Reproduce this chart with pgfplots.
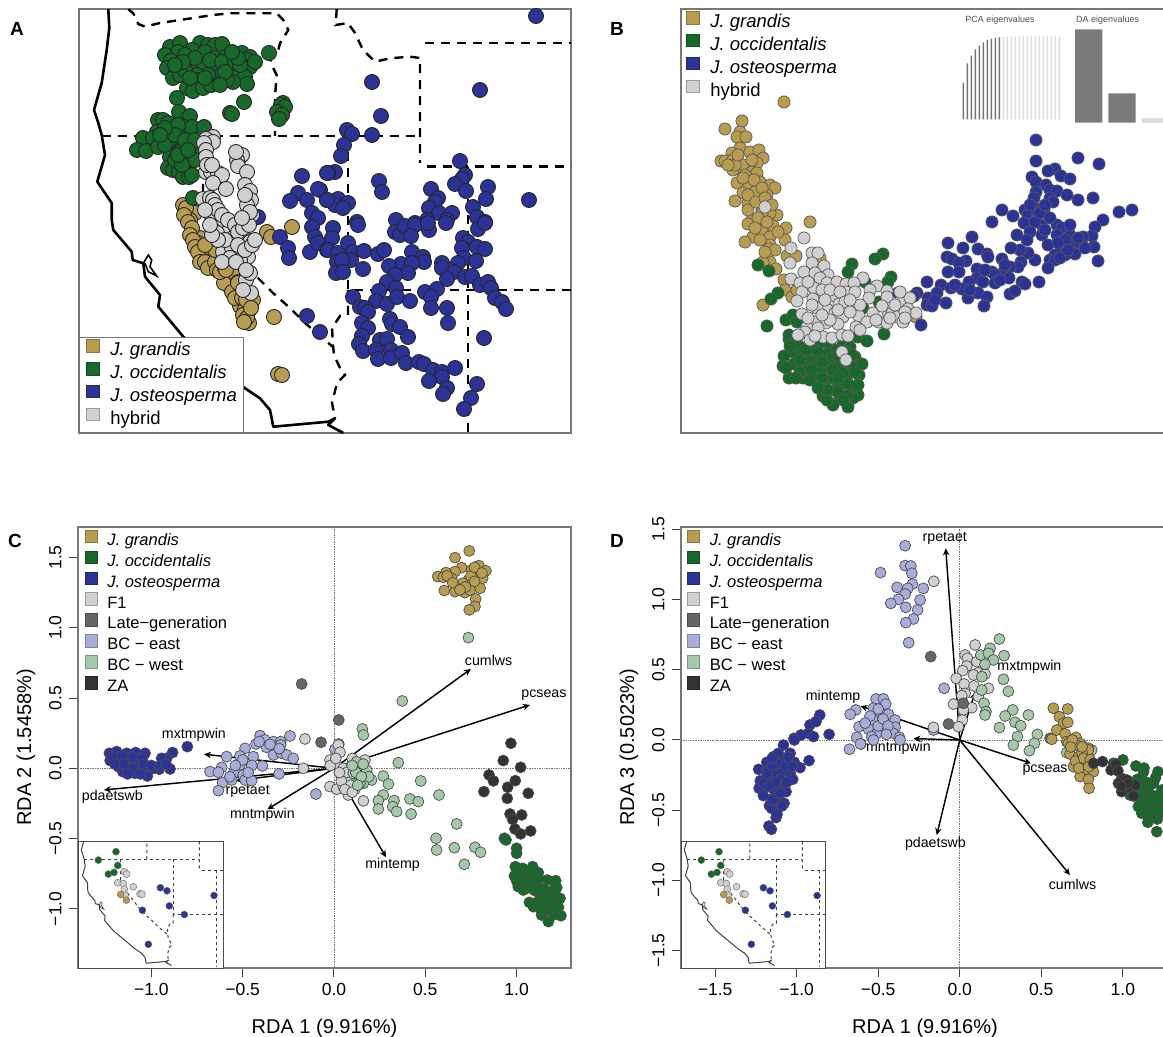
\documentclass[border=0pt]{standalone}
\usepackage{fontspec}
\setmainfont{Liberation Sans}
\usepackage{pgfplots}
\usetikzlibrary{arrows.meta}
\pgfplotsset{compat=1.18}
\definecolor{jg}{HTML}{B89C50}
\definecolor{jo}{HTML}{17692A}
\definecolor{jt}{HTML}{2B3398}
\definecolor{hy}{HTML}{D0D0D0}
\definecolor{lg}{HTML}{666666}
\definecolor{be}{HTML}{A9ADDA}
\definecolor{bw}{HTML}{A3C9A8}
\definecolor{za}{HTML}{333333}
\definecolor{bd}{HTML}{777777}
\newcommand{\fs}[1]{\fontsize{#1}{#1}\selectfont}
\pgfplotsset{
  base/.style={scale only axis,clip=true,axis line style={draw=bd,line width=1.2pt},legend cell align=left},
  nt/.style={xtick=\empty,ytick=\empty},
  ptA/.style={forget plot,only marks,mark=*,mark size=7.5pt,mark options={fill=#1,draw=black!85,line width=.9pt}},
  ptB/.style={forget plot,only marks,mark=*,mark size=6.1pt,mark options={fill=#1,draw=black!65,line width=.7pt}},
  ptC/.style={forget plot,only marks,mark=*,mark size=5.5pt,mark options={fill=#1,draw=black!70,line width=.7pt}},
  ptI/.style={forget plot,only marks,mark=*,mark size=3.5pt,mark options={fill=#1,draw=black!60,line width=.4pt}},
  sq/.style={legend image code/.code={\draw[draw=#1!75!black,fill=#1,line width=.7pt] (0,-1pt) rectangle (12.5pt,11.5pt);}},
  arr/.style={forget plot,draw=black,line width=1.45pt,-{Stealth[length=7pt,width=6.5pt]}},
  zero/.style={forget plot,draw=black!55,line width=.7pt,densely dotted},
  rda/.style={base,tick align=outside,major tick length=9pt,xtick pos=lower,ytick pos=left,
    tick style={draw=black!75,line width=1pt},
    ticklabel style={font=\fs{17.5}},
    xticklabel style={yshift=-3pt},
    yticklabel style={rotate=90,anchor=south,yshift=4pt},
    label style={font=\fs{20}}},
  leg8/.style={legend style={draw=none,fill=none,font=\fs{16.5},inner sep=0pt,
    nodes={inner sep=0pt,text height=12.8pt,text depth=5.4pt},row sep=0pt,
    /tikz/every odd column/.append style={column sep=9.7pt}}},
  leg4/.style={legend style={font=\fs{18.5},inner sep=0pt,
    nodes={inner sep=0pt,text height=15.6pt,text depth=6.3pt},row sep=0pt,
    /tikz/every odd column/.append style={column sep=11pt}}}
}
% map outlines, in the map's own coordinates (same data for the main map and the insets)
\newcommand{\maplines}[3]{%
 \addplot[forget plot,draw=#3,line width=#1,line join=round] coordinates {(108.3,9)(109.3,28)(106.7,50)(101.7,83)(94,110)(98.3,123)(101.7,135)(105,155)(97.3,181.7)(111.7,203)(111.7,220)(113.3,230)(131.7,251.7)(132.7,260)(143.3,263.3)(145,276.7)(160,295)(158.3,306.7)(183.3,336.7)(245,388.3)(260,398.3)(270,410)(273.3,426.7)(328.3,421.7)(335,418.3)(328.3,425)(343.3,433)};
 \addplot[forget plot,draw=#3,line width=.6*#1] coordinates {(143.3,263.3)(148.3,255)(151.7,260)(150,266.7)(156.7,276)(148.3,271.7)(145,263.3)};
 \addplot[forget plot,draw=#3,line width=#2,mapdash] coordinates {(128.3,9.3)(133.3,13.3)(138.3,24)(145,26.7)(160,23)(213,15)(230,13.3)(276.7,13.3)(283.3,20)(288.3,30)(280,43.3)(278.3,50)(270,56.7)(271.7,65)(276.7,75)(275,96.7)(275,136)};
 \addplot[forget plot,draw=#3,line width=#2,mapdash] coordinates {(336.7,9)(335.7,25)(348,23)(355,33)(363,50)(375,61.7)(390,58.3)(410,56.7)(420,58)(420,163)};
 \addplot[forget plot,draw=#3,line width=#2,mapdash] coordinates {(101.7,136)(420,136)};
 \addplot[forget plot,draw=#3,line width=#2,mapdash] coordinates {(425,43.3)(575,43.3)};
 \addplot[forget plot,draw=#3,line width=#2,mapdash] coordinates {(427,166.7)(575,166.7)};
 \addplot[forget plot,draw=#3,line width=#2,mapdash] coordinates {(348,136)(348,290)(575,290)};
 \addplot[forget plot,draw=#3,line width=#2,mapdash] coordinates {(468,166.7)(468,436)};
 \addplot[forget plot,draw=#3,line width=#2,mapdash] coordinates {(348,290)(348,315)(340,316)(332,328)(333,345)(334,355)(340,368)(345,375)(337,383)(332,403)(335,418)};
 \addplot[forget plot,draw=#3,line width=#2,mapdash] coordinates {(203,136)(203,205)(258,278)(273,293)(290,308)(305,323)(333,347)};
}
\newcommand{\inset}{%
 \maplines{1pt}{1pt}{black!75}
 \addplot[ptI=jo] coordinates {(190,115)(141.2,138.4)(194.6,153.3)(168.8,177.6)(184.5,172.9)};
 \addplot[ptI=hy] coordinates {(213,171)(219.5,177.6)(194.6,201.9)(210.3,203.8)(237.9,213)(213,219.6)(256.3,232.7)(261.8,233.6)(214.9,236.4)};
 \addplot[ptI=jg] coordinates {(202.9,234.5)(218.5,250.4)};
 \addplot[ptI=jt] coordinates {(312.5,215.7)(330.9,224.3)(460.8,237.4)(337.4,266.4)(262.8,278.5)(378.8,290.6)(279.3,373.7)};
}
\newcommand{\legfour}{%
 \addlegendimage{sq=jg}\addlegendentry{\textit{J. grandis}}
 \addlegendimage{sq=jo}\addlegendentry{\textit{J. occidentalis}}
 \addlegendimage{sq=jt}\addlegendentry{\textit{J. osteosperma}}
 \addlegendimage{sq=hy}\addlegendentry{hybrid}
}
\newcommand{\legeight}{%
 \addlegendimage{sq=jg}\addlegendentry{\textit{J. grandis}}
 \addlegendimage{sq=jo}\addlegendentry{\textit{J. occidentalis}}
 \addlegendimage{sq=jt}\addlegendentry{\textit{J. osteosperma}}
 \addlegendimage{sq=hy}\addlegendentry{F1}
 \addlegendimage{sq=lg}\addlegendentry{Late−generation}
 \addlegendimage{sq=be}\addlegendentry{BC − east}
 \addlegendimage{sq=bw}\addlegendentry{BC − west}
 \addlegendimage{sq=za}\addlegendentry{ZA}
}
\begin{document}
\begin{tikzpicture}
\path[use as bounding box] (0,0) rectangle (1163pt,1037pt);
\clip (0,0) rectangle (1163pt,1037pt);
\node[font=\bfseries\fs{19}] at (17pt,1008pt) {A};
\node[font=\bfseries\fs{19}] at (617pt,1008pt) {B};
\node[font=\bfseries\fs{19}] at (15pt,496pt) {C};
\node[font=\bfseries\fs{19}] at (617pt,496pt) {D};

% ---------- A ----------
\begin{axis}[base,nt,at={(79pt,604pt)},anchor=south west,width=492pt,height=424pt,
  xmin=79,xmax=571,ymin=9,ymax=433,y dir=reverse,mapdash/.style={dash pattern=on 9pt off 7pt}]
\maplines{2.6pt}{2.4pt}{black}
\addplot[ptA=jg] coordinates {(192,203)(187,213)(195,213)(190,220)(197,237)(200,238)(198,243)(203,250)(203,257)(207,257)(210,253)(212,260)(213,267)(222,258)(233,267)(233,277)(228,275)(227,278)(230,287)(224,283)(238,294)(240,306)(245,309)(248,312)(249,323)(253,300)(267,232)(271,237)(292,227)(274,317)(278,374)(282,375)(183,205)(186,208)(184,215)(188,222)(192,228)(190,235)(193,240)(195,247)(198,252)(200,262)(205,262)(208,268)(215,262)(217,270)(220,272)(225,268)(236,275)(238,282)(232,292)(235,298)(242,298)(246,300)(243,315)(247,318)(251,308)(244,322)(238,283)(226,270)(215,250)(205,245)};
\addplot[ptA=jo] coordinates {(170,47)(180,43)(178,52)(165,55)(171,61)(167,68)(175,75)(173,78)(180,75)(200,43)(208,45)(215,45)(222,44)(192,50)(205,52)(214,58)(226,57)(242,53)(250,57)(247,60)(190,65)(198,67)(205,65)(217,68)(230,68)(235,73)(243,68)(250,67)(197,75)(217,77)(235,78)(245,77)(247,84)(233,82)(227,80)(213,83)(197,80)(187,88)(193,91)(203,88)(211,85)(269,53)(177,98)(244,102)(230,113)(232,114)(283,103)(281,105)(285,107)(277,112)(282,115)(279,119)(179,112)(190,116)(158,120)(163,120)(168,123)(157,132)(166,133)(173,130)(185,127)(183,133)(192,127)(204,127)(143,138)(153,138)(137,150)(146,151)(158,147)(172,145)(178,144)(172,152)(180,152)(193,149)(170,157)(188,162)(195,160)(168,168)(173,170)(179,172)(183,177)(189,177)(192,175)(193,198)(185,55)(195,58)(185,70)(210,60)(222,62)(235,62)(240,65)(225,72)(208,75)(220,85)(205,78)(190,78)(183,62)(175,65)(238,58)(232,52)(255,62)(170,140)(165,145)(178,125)(175,135)(185,140)(175,160)(182,165)(178,155)(195,140)(188,150)(165,128)(160,135)};
\addplot[ptA=jt] coordinates {(536,16)(372,82)(480,90)(381,116)(347,130)(352,134)(372,135)(344,145)(341,156)(335,172)(328,173)(379,181)(382,192)(460,161)(465,175)(462,179)(455,184)(466,191)(488,187)(486,199)(529,200)(431,189)(438,198)(435,202)(429,208)(439,213)(452,213)(473,207)(477,217)(485,222)(327,200)(338,199)(348,203)(335,205)(343,208)(320,190)(396,220)(415,223)(427,220)(447,220)(357,222)(302,176)(327,173)(298,193)(290,201)(307,200)(318,189)(327,200)(312,213)(318,218)(258,217)(280,237)(288,248)(289,258)(312,227)(315,237)(310,252)(318,243)(327,250)(307,316)(320,332)(333,228)(332,238)(328,250)(338,253)(348,243)(353,252)(364,251)(351,260)(337,262)(342,260)(336,273)(343,272)(363,269)(358,225)(378,254)(384,250)(395,232)(400,235)(405,226)(415,225)(411,236)(429,230)(428,223)(446,223)(478,229)(485,223)(463,238)(468,242)(462,248)(477,247)(485,249)(412,252)(423,257)(424,262)(401,264)(389,266)(412,263)(408,273)(395,275)(442,263)(442,268)(464,258)(476,261)(458,263)(454,272)(447,279)(465,277)(472,276)(387,282)(396,288)(379,291)(376,301)(387,304)(397,297)(410,301)(425,292)(437,289)(431,297)(431,308)(447,308)(448,323)(480,285)(488,282)(491,288)(495,298)(502,302)(506,309)(353,297)(360,307)(365,308)(368,312)(362,323)(368,328)(390,319)(392,324)(400,327)(408,337)(362,336)(359,344)(363,351)(380,340)(387,339)(376,350)(391,350)(378,359)(391,358)(402,353)(406,363)(419,362)(424,364)(433,370)(442,372)(455,368)(442,377)(429,381)(447,388)(443,394)(477,384)(471,398)(464,409)(484,338)};
\addplot[ptA=hy] coordinates {(213,137)(206,139)(213,142)(204,143)(206,150)(206,157)(240,157)(242,155)(237,160)(238,166)(247,172)(206,172)(211,172)(218,173)(222,175)(213,183)(226,189)(245,185)(250,191)(251,200)(247,205)(203,199)(210,198)(213,200)(212,217)(252,215)(218,227)(213,230)(227,233)(233,238)(247,240)(250,242)(223,252)(232,248)(240,250)(248,257)(240,260)(246,280)(251,293)(250,273)(217,233)(215,205)(218,210)(222,215)(228,220)(235,225)(238,232)(243,228)(225,240)(218,240)(212,235)(238,245)(230,258)(222,262)(236,262)(245,250)(252,245)(255,240)(246,270)(243,290)(249,225)(205,210)(210,225)(245,195)(250,212)(242,218)(207,165)(212,165)(236,152)};
\end{axis}
\begin{axis}[base,nt,hide axis,at={(79pt,604pt)},anchor=south west,width=492pt,height=424pt,xmin=0,xmax=1,ymin=0,ymax=1,
  leg4,legend style={at={(0,0)},anchor=south west,draw=bd,line width=1pt,fill=white,inner xsep=6.7pt,inner ysep=2pt}]
\legfour
\end{axis}

% ---------- B ----------
\begin{axis}[base,nt,at={(681pt,604pt)},anchor=south west,width=519pt,height=424pt,
  xmin=681,xmax=1200,ymin=9,ymax=433,y dir=reverse]
\addplot[ptB=jg] coordinates {(784,102)(742,121)(725,129)(740,132)(737,137)(746,137)(740,148)(750,152)(759,150)(732,153)(763,158)(721,161)(725,161)(733,160)(743,165)(757,163)(733,170)(752,172)(757,173)(737,183)(749,185)(760,182)(770,185)(775,188)(755,192)(743,193)(767,195)(735,201)(748,203)(762,210)(777,215)(770,213)(752,220)(748,210)(762,213)(748,224)(762,230)(773,226)(786,228)(810,222)(753,237)(745,242)(770,237)(785,240)(770,245)(769,249)(787,256)(796,256)(770,262)(776,269)(763,262)(784,280)(785,290)(792,297)(763,305)(820,258)(797,290)(916,317)(735,165)(745,175)(752,160)(743,178)(728,165)(738,155)(754,180)(762,188)(748,195)(756,202)(765,198)(772,205)(758,218)(767,222)(755,228)(778,232)(760,240)(775,250)(765,252)};
\addplot[ptB=jt] coordinates {(1036,140)(1036,161)(1078,158)(1099,164)(1055,169)(1048,171)(1061,176)(1070,179)(1032,177)(1036,182)(1046,185)(1036,192)(1050,190)(1057,191)(1067,195)(1078,200)(1093,198)(1034,198)(1050,198)(1053,202)(1044,209)(1034,208)(1025,210)(1002,210)(1013,216)(1028,215)(1037,217)(992,222)(1103,220)(1119,212)(1132,210)(1038,212)(1024,223)(1042,225)(1057,225)(1062,228)(1095,227)(1092,236)(1083,237)(1070,235)(1057,235)(1042,235)(1030,232)(1017,235)(1027,240)(1048,245)(1062,248)(1072,245)(1080,243)(1094,247)(1075,254)(1055,255)(1062,250)(1050,260)(1055,260)(1048,268)(1098,261)(1035,260)(1028,253)(1020,250)(1011,248)(1021,262)(972,237)(948,243)(963,248)(978,249)(987,254)(988,257)(947,257)(952,259)(966,261)(1002,259)(959,263)(1018,267)(1010,267)(948,272)(959,272)(977,269)(992,272)(1003,273)(995,275)(1009,278)(977,278)(983,282)(995,283)(969,282)(927,282)(941,285)(978,293)(951,288)(962,289)(937,293)(928,298)(898,293)(917,293)(914,296)(968,298)(987,297)(946,303)(927,305)(932,306)(984,306)(1010,294)(1015,291)(1022,282)(1025,284)(1039,282)(921,325)(1035,222)(1045,230)(1065,240)(1070,225)(1058,243)(1085,248)(1040,213)(1050,218)(1065,255)(1005,265)(1000,280)(985,270)(970,290)(955,285)(935,300)(1030,205)(1045,205)(1060,258)(1068,250)(1078,238)};
\addplot[ptB=jo] coordinates {(758,265)(769,271)(883,254)(875,259)(852,264)(848,272)(891,277)(888,282)(778,293)(771,299)(786,320)(767,326)(793,315)(797,322)(863,308)(879,302)(865,282)(884,334)(789,335)(789,339)(797,337)(858,337)(867,341)(800,347)(810,343)(820,343)(830,345)(843,345)(850,347)(795,353)(802,353)(812,358)(823,355)(829,353)(855,357)(784,356)(783,366)(794,364)(805,367)(817,365)(828,365)(838,367)(850,365)(862,364)(789,378)(803,378)(817,379)(827,377)(833,378)(850,373)(859,375)(840,385)(851,387)(825,387)(835,390)(823,396)(858,395)(853,398)(840,398)(833,405)(848,407)(827,400)(808,370)(843,373)(820,370)(833,357)(813,350)(837,350)(806,350)(818,352)(838,356)(846,352)(790,346)(800,360)(812,370)(822,362)(832,370)(845,360)(855,372)(800,372)(810,380)(822,378)(838,378)(848,384)(828,390)(838,392)(818,388)(847,396)(858,385)(796,378)(786,368)(852,355)(843,400)};
\addplot[ptB=hy] coordinates {(804,238)(791,248)(812,253)(818,253)(790,263)(812,263)(824,266)(804,272)(815,273)(828,275)(820,278)(863,278)(791,279)(800,283)(827,283)(837,282)(846,284)(854,283)(814,288)(802,292)(846,292)(855,292)(877,286)(870,290)(887,291)(821,296)(835,296)(869,298)(887,297)(813,299)(797,301)(839,304)(852,304)(900,302)(910,298)(827,309)(835,313)(817,308)(802,314)(859,316)(843,317)(873,313)(888,312)(892,313)(908,309)(916,313)(897,317)(826,323)(838,324)(815,322)(830,320)(807,327)(818,328)(856,327)(867,322)(879,322)(887,323)(903,322)(805,332)(823,337)(832,338)(842,335)(848,336)(842,352)(846,360)(765,207)(808,282)(822,290)(830,290)(840,292)(812,305)(825,300)(845,302)(808,318)(822,315)(838,310)(850,312)(860,305)(850,300)(810,340)(798,335)(815,336)(860,330)(876,320)(890,318)(905,312)(895,305)(882,306)(900,292)(905,318)};
\node[font=\fs{9},text=black!70] at (axis cs:1000,20) {PCA eigenvalues};
\node[font=\fs{9},text=black!70] at (axis cs:1107.7,20) {DA eigenvalues};
\end{axis}
\begin{axis}[base,nt,hide axis,at={(681pt,604pt)},anchor=south west,width=519pt,height=424pt,xmin=0,xmax=1,ymin=0,ymax=1,
  leg4,legend style={at={(0.0096,0.9953)},anchor=north west,draw=none,fill=none}]
\legfour
\end{axis}
% PCA eigenvalues
\begin{axis}[hide axis,scale only axis,at={(963.3pt,917.7pt)},anchor=south west,width=96pt,height=83pt,xmin=0,xmax=24,ymin=0,ymax=83,clip=false]
\addplot[ybar,bar width=1.4pt,bar shift=0pt,fill=black!55,draw=none] coordinates {(0,36.7)(1,56)(2,63.7)(3,70)(4,73.7)(5,77)(6,79.3)(7,80.3)(8,81.3)(9,82)};
\addplot[ybar,bar width=1.4pt,bar shift=0pt,fill=black!14,draw=none] coordinates {(10,82.5)(11,82.6)(12,82.7)(13,82.8)(14,82.8)(15,82.9)(16,82.9)(17,82.9)(18,83)(19,83)(20,83)(21,83)(22,83)(23,83)(24,83)};
\end{axis}
% DA eigenvalues
\begin{axis}[hide axis,scale only axis,at={(1072pt,914.3pt)},anchor=south west,width=100pt,height=93.4pt,xmin=-0.5,xmax=2.5,ymin=0,ymax=93.4,clip=false]
\addplot[ybar,bar width=27.3pt,bar shift=0pt,fill=black!52,draw=none] coordinates {(0,93.4)(1,29.4)};
\addplot[ybar,bar width=27.3pt,bar shift=0pt,fill=black!13,draw=none] coordinates {(2,4.7)};
\end{axis}

% ---------- C ----------
\begin{axis}[rda,at={(78pt,69pt)},anchor=south west,width=493pt,height=441pt,
  xmin=-1.402,xmax=1.298,ymin=-1.421,ymax=1.717,
  xtick={-1,-0.5,0,0.5,1},xticklabels={−1.0,−0.5,0.0,0.5,1.0},
  ytick={-1,-0.5,0,0.5,1,1.5},yticklabels={−1.0,−0.5,0.0,0.5,1.0,1.5},
  xlabel={RDA 1 (9.916\%)},ylabel={RDA 2 (1.5458\%)},
  xlabel style={at={(axis description cs:0.5,0)},anchor=center,yshift=-60pt},
  ylabel style={at={(axis description cs:0,0.5)},anchor=center,yshift=52pt},
  leg8,legend style={at={(0.0128,0.9945)},anchor=north west}]
\legeight
\addplot[zero] coordinates {(-1.402,0)(1.298,0)};
\addplot[zero] coordinates {(0,-1.421)(0,1.717)};
\addplot[ptC=jg] coordinates {(.741,1.547)(.663,1.499)(.699,1.428)(.663,1.400)(.613,1.393)(.568,1.364)(.599,1.359)(.644,1.352)(.754,1.412)(.794,1.442)(.832,1.405)(.772,1.400)(.790,1.364)(.814,1.352)(.736,1.340)(.705,1.317)(.800,1.281)(.604,1.265)(.672,1.281)(.663,1.257)(.717,1.250)(.745,1.269)(.776,1.205)(.772,1.151)(.741,1.127)(.62,1.37)(.65,1.32)(.75,1.37)(.77,1.43)(.81,1.39)(.72,1.29)(.69,1.27)(.77,1.33)};
\addplot[ptC=jt] coordinates {(-.803,.154)(-1.230,.107)(-1.190,.119)(-1.135,.107)(-1.086,.112)(-1.035,.107)(-1.226,.055)(-1.172,.064)(-1.126,.047)(-1.080,.031)(-1.017,.012)(-.884,.112)(-.916,.071)(-.944,.071)(-.957,-.007)(-.898,-.005)(-1.157,-.024)(-1.090,-.036)(-1.022,-.055)(-1.120,0)(-1.181,.012)(-1.062,-.012)(-.990,0)(-1.21,.08)(-1.16,.09)(-1.10,.08)(-1.05,.07)(-1.15,.03)(-1.10,.0)(-1.04,.03)(-1.13,-.04)(-1.06,-.04)(-1.0,.02)(-.95,.02)(-.92,.03)(-1.2,.03)};
\addplot[ptC=jo] coordinates {(.933,-.498)(.942,-.510)(1.000,-.569)(1.000,-.605)(.993,-.700)(1.033,-.712)(1.088,-.700)(.988,-.766)(1.055,-.759)(1.119,-.743)(1.082,-.795)(1.037,-.818)(1.009,-.842)(1.037,-.866)(1.110,-.818)(1.168,-.795)(1.214,-.800)(1.207,-.854)(1.124,-.890)(1.183,-.902)(1.238,-.925)(1.070,-.954)(1.092,-.985)(1.152,-.944)(1.201,-.961)(1.161,-1.008)(1.137,-1.044)(1.243,-1.049)(1.201,-1.044)(1.174,-1.091)(1.128,-.937)(1.02,-.74)(1.06,-.80)(1.10,-.87)(1.12,-.78)(1.15,-.86)(1.07,-.85)(1.17,-.95)(1.21,-.90)(1.10,-.96)(1.13,-1.0)(1.19,-1.0)(1.23,-.99)(1.0,-.80)(1.09,-.74)(1.22,-.85)};
\addplot[ptC=be] coordinates {(-.405,.232)(-.241,.230)(-.427,.173)(-.378,.202)(-.332,.190)(-.292,.190)(-.487,.142)(-.332,.149)(-.292,.166)(-.332,.095)(-.287,.107)(-.259,.095)(-.223,.071)(-.515,.088)(-.588,.083)(-.442,.083)(-.515,.024)(-.615,.007)(-.679,-.024)(-.633,-.028)(-.392,.017)(-.551,-.036)(-.497,-.047)(-.610,-.102)(-.560,-.083)(-.487,-.083)(-.451,-.088)(-.301,-.040)(-.633,-.159)(-.099,-.183)(.005,.135)(-.37,.15)(-.41,.19)(-.35,.17)(-.30,.14)(-.45,.02)(-.50,.06)(-.54,.02)(-.47,-.03)(-.57,-.06)};
\addplot[ptC=hy] coordinates {(-.159,.209)(.026,.173)(.024,.166)(.033,.114)(-.022,.059)(.015,.024)(.051,0)(.097,.024)(.170,.059)(-.168,0)(.042,-.059)(.115,-.078)(.069,-.083)(-.022,-.130)(.015,-.149)(.115,-.149)(.051,-.130)(.078,-.190)(.161,-.232)(.07,-.03)(.09,-.12)(.04,-.09)(.13,-.05)(.03,-.03)(-.02,.02)(.06,-.15)(.10,-.17)(.01,.07)(.1,.07)};
\addplot[ptC=lg] coordinates {(-.177,.600)(.026,.344)(-.071,.185)};
\addplot[ptC=bw] coordinates {(.736,.930)(.374,.479)(.155,.280)(.161,.237)(.352,.040)(.270,-.055)(.298,-.112)(.475,-.090)(.206,-.083)(.152,-.024)(.179,-.012)(.124,.047)(.161,-.107)(.575,-.190)(.270,-.190)(.243,-.230)(.329,-.230)(.416,-.218)(.462,-.237)(.243,-.289)(.321,-.273)(.343,-.308)(.422,-.325)(.672,-.396)(.559,-.498)(.562,-.581)(.659,-.565)(.772,-.562)(.803,-.598)(.714,-.683)(.142,-.107)(.106,-.036)(.16,.03)(.19,-.06)(.12,-.03)(.15,-.06)(.13,-.12)(.10,.02)};
\addplot[ptC=za] coordinates {(.969,.178)(.927,.055)(1.022,.007)(.849,-.047)(.873,-.090)(.993,-.088)(.951,-.135)(.821,-.166)(1.064,-.178)(.949,-.214)(.964,-.325)(1.028,-.332)(.978,-.363)(.991,-.432)(1.022,-.467)(1.077,-.446)};
\addplot[arr] coordinates {(0,0)(.750,.707)};
\addplot[arr] coordinates {(0,0)(1.073,.451)};
\addplot[arr] coordinates {(0,0)(-.712,.100)};
\addplot[arr] coordinates {(0,0)(-1.260,-.154)};
\addplot[arr] coordinates {(0,0)(-.539,-.088)};
\addplot[arr] coordinates {(0,0)(-.365,-.292)};
\addplot[arr] coordinates {(0,0)(.285,-.633)};
\node[font=\fs{14.2}] at (axis cs:.847,.767) {cumlws};
\node[font=\fs{14.2}] at (axis cs:1.150,.522) {pcseas};
\node[font=\fs{14.2}] at (axis cs:-.767,.237) {mxtmpwin};
\node[font=\fs{14.2}] at (axis cs:-1.214,-.206) {pdaetswb};
\node[font=\fs{14.2}] at (axis cs:-.473,-.166) {rpetaet};
\node[font=\fs{14.2}] at (axis cs:-.392,-.332) {mntmpwin};
\node[font=\fs{14.2}] at (axis cs:.321,-.688) {mintemp};
\end{axis}
\begin{axis}[base,nt,axis line style={draw=black!70,line width=1pt},axis background/.style={fill=white},at={(78pt,69pt)},anchor=south west,width=145.7pt,height=126.3pt,
  xmin=85,xmax=487.5,ymin=87,ymax=440,y dir=reverse,mapdash/.style={dash pattern=on 3pt off 3pt}]
\inset
\end{axis}

% ---------- D ----------
\begin{axis}[rda,at={(681pt,69pt)},anchor=south west,width=519pt,height=441pt,
  xmin=-1.709,xmax=1.473,ymin=-1.624,ymax=1.517,
  xtick={-1.5,-1,-0.5,0,0.5,1},xticklabels={−1.5,−1.0,−0.5,0.0,0.5,1.0},
  ytick={-1.5,-1,-0.5,0,0.5,1,1.5},yticklabels={−1.5,−1.0,−0.5,0.0,0.5,1.0,1.5},
  xlabel={RDA 1 (9.916\%)},ylabel={RDA 3 (0.5023\%)},
  xlabel style={at={(axis description cs:0.47,0)},anchor=center,yshift=-60pt},
  ylabel style={at={(axis description cs:0,0.5)},anchor=center,yshift=52pt},
  leg8,legend style={at={(0.0110,0.9945)},anchor=north west}]
\legeight
\addplot[zero] coordinates {(-1.709,0)(1.473,0)};
\addplot[zero] coordinates {(0,-1.624)(0,1.517)};
\addplot[ptC=jo] coordinates {(.942,-.166)(1.000,-.142)(1.080,-.185)(1.127,-.226)(1.215,-.226)(1.137,-.297)(1.188,-.309)(1.044,-.392)(1.116,-.392)(1.177,-.392)(1.239,-.356)(1.106,-.451)(1.167,-.463)(1.228,-.463)(1.116,-.522)(1.177,-.510)(1.212,-.563)(1.153,-.586)(1.208,-.653)(1.095,-.475)(1.239,-.510)(1.157,-.332)(1.05,-.30)(1.08,-.36)(1.12,-.35)(1.15,-.42)(1.19,-.44)(1.14,-.46)(1.21,-.40)(1.1,-.40)(1.18,-.53)(1.2,-.50)(1.24,-.42)(1.15,-.53)(1.13,-.20)(1.09,-.28)(1.2,-.27)};
\addplot[ptC=jt] coordinates {(-.858,.178)(-.919,.107)(-.881,.131)(-.928,.047)(-.897,.024)(-1.016,.012)(-.973,.036)(-.801,.040)(-1.081,-.036)(-1.014,0)(-1.142,-.119)(-1.112,-.095)(-1.040,-.095)(-1.183,-.159)(-1.085,-.154)(-1.014,-.159)(-.924,-.147)(-.979,-.197)(-1.233,-.209)(-1.187,-.226)(-1.132,-.237)(-1.095,-.237)(-1.040,-.237)(-1.024,-.280)(-1.223,-.290)(-1.173,-.280)(-1.091,-.321)(-1.230,-.344)(-1.159,-.337)(-1.065,-.368)(-1.204,-.396)(-1.132,-.368)(-1.142,-.415)(-1.112,-.439)(-1.077,-.451)(-1.167,-.468)(-1.132,-.491)(-1.153,-.487)(-1.126,-.553)(-1.170,-.613)(-1.155,-.636)(-1.12,-.17)(-1.07,-.19)(-1.05,-.12)(-1.18,-.24)(-1.10,-.28)(-1.06,-.30)(-1.15,-.18)(-1.20,-.31)(-1.13,-.30)(-1.10,-.38)(-1.17,-.33)(-1.13,-.44)(-1.15,-.43)(-1.09,-.47)(-1.12,-.53)(-1.03,-.19)(-1.15,-.13)};
\addplot[ptC=be] coordinates {(-.335,1.384)(-.335,1.242)(-.300,1.239)(-.294,1.187)(-.486,1.192)(-.290,1.111)(-.384,1.087)(-.319,1.080)(-.223,1.080)(-.335,1.040)(-.243,.997)(-.376,1.002)(-.423,.973)(-.331,.945)(-.258,.926)(-.284,.862)(-.331,.836)(-.313,.693)(-.096,.368)(-.513,.292)(-.468,.292)(-.454,.256)(-.529,.226)(-.638,.214)(-.672,.183)(-.488,.190)(-.437,.183)(-.396,.142)(-.529,.142)(-.478,.119)(-.617,.095)(-.560,.078)(-.509,.047)(-.396,.090)(-.407,.047)(-.370,.019)(-.632,.019)(-.607,-.028)(-.540,.024)(-.676,-.066)(-.609,-.028)(-.529,0)(-.366,0)(-.161,.071)(-.50,.10)(-.47,.15)(-.44,.10)(-.55,.17)(-.50,.22)(-.58,.12)(-.45,.04)};
\addplot[ptC=hy] coordinates {(-.159,1.130)(.094,.677)(.033,.605)(.047,.582)(.104,.558)(.043,.527)(.018,.494)(.114,.480)(.155,.470)(.084,.463)(-.022,.439)(.027,.399)(.088,.385)(.176,.368)(.033,.332)(.012,.316)(-.039,.256)(.074,.230)(.022,.214)(.016,.142)(-.161,.090)(-.008,.095)(.114,.309)};
\addplot[ptC=lg] coordinates {(-.178,.594)(-.069,.114)(.022,.261)(.554,.012)};
\addplot[ptC=bw] coordinates {(.243,.719)(.186,.653)(.129,.605)(.176,.617)(.272,.601)(.206,.570)(.155,.539)(.135,.451)(.268,.432)(.298,.347)(.135,.356)(.149,.261)(.161,.202)(.155,.178)(.325,.214)(.278,.171)(.421,.178)(.339,.126)(.374,.102)(.243,.088)(.476,.040)(.354,.024)(.458,-.024)(.329,-.036)(.427,-.076)(.656,-.090)(.809,-.071)(.748,-.036)};
\addplot[ptC=jg] coordinates {(.574,.226)(.662,.221)(.611,.166)(.636,.119)(.662,.126)(.595,.071)(.646,.043)(.564,.005)(.656,-.012)(.713,.019)(.738,-.024)(.697,-.028)(.789,-.059)(.666,-.024)(.717,-.036)(.789,-.071)(.676,-.100)(.728,-.119)(.748,-.161)(.697,-.190)(.772,-.209)(.820,-.226)(.738,-.261)(.789,-.280)(.793,-.344)(.69,.0)(.75,-.09)(.71,-.15)(.76,-.13)(.80,-.14)(.73,-.20)(.68,-.05)(.75,-.05)(.79,-.19)};
\addplot[ptC=za] coordinates {(.820,-.166)(.875,-.154)(.928,-.214)(.958,-.171)(.993,-.273)(1.075,-.321)(1.024,-.344)(.973,-.309)(.993,-.368)(1.065,-.399)(1.024,-.285)(.97,-.22)(1.03,-.31)(.99,-.33)};
\addplot[arr] coordinates {(0,0)(-.086,1.365)};
\addplot[arr] coordinates {(0,0)(.094,.340)};
\addplot[arr] coordinates {(0,0)(-.609,.242)};
\addplot[arr] coordinates {(0,0)(-.284,.010)};
\addplot[arr] coordinates {(0,0)(.437,-.166)};
\addplot[arr] coordinates {(0,0)(.676,-.962)};
\addplot[arr] coordinates {(0,0)(-.141,-.677)};
\node[font=\fs{14.2}] at (axis cs:-.092,1.436) {rpetaet};
\node[font=\fs{14.2}] at (axis cs:.427,.522) {mxtmpwin};
\node[font=\fs{14.2}] at (axis cs:-.777,.309) {mintemp};
\node[font=\fs{14.2}] at (axis cs:-.376,-.059) {mntmpwin};
\node[font=\fs{14.2}] at (axis cs:.523,-.214) {pcseas};
\node[font=\fs{14.2}] at (axis cs:.691,-1.026) {cumlws};
\node[font=\fs{14.2}] at (axis cs:-.149,-.743) {pdaetswb};
\end{axis}
\begin{axis}[base,nt,axis line style={draw=black!70,line width=1pt},axis background/.style={fill=white},at={(681pt,69pt)},anchor=south west,width=144.5pt,height=126.3pt,
  xmin=85,xmax=484,ymin=87,ymax=440,y dir=reverse,mapdash/.style={dash pattern=on 3pt off 3pt}]
\inset
\end{axis}
\end{tikzpicture}
\end{document}
